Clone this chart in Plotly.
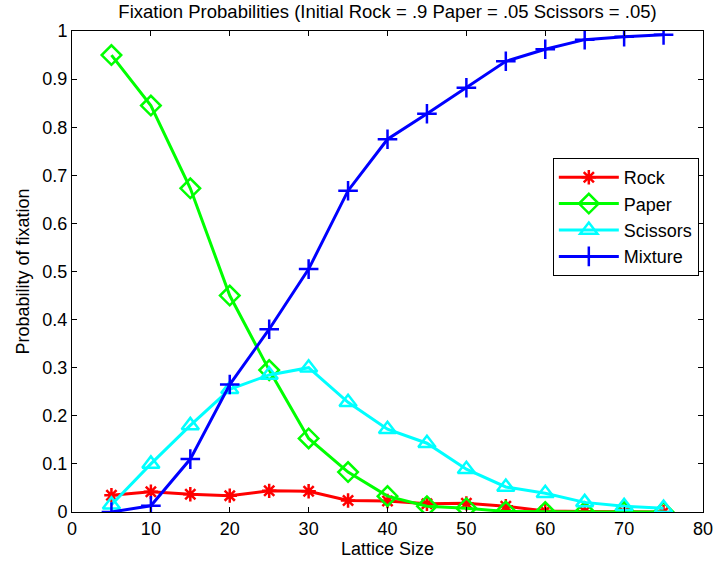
import plotly.graph_objects as go

lattice = [5, 10, 15, 20, 25, 30, 35, 40, 45, 50, 55, 60, 65, 70, 75]
rock = [0.035, 0.042, 0.037, 0.034, 0.044, 0.043, 0.024, 0.023, 0.017, 0.018, 0.012, 0.002, 0.001, 0.0, 0.0]
paper = [0.95, 0.845, 0.673, 0.45, 0.295, 0.153, 0.083, 0.033, 0.012, 0.008, 0.001, 0.0, 0.0, 0.0, 0.0]
scissors = [0.015, 0.10, 0.18, 0.255, 0.285, 0.30, 0.228, 0.172, 0.143, 0.089, 0.052, 0.039, 0.020, 0.012, 0.008]
mixture = [0.0, 0.013, 0.11, 0.265, 0.38, 0.505, 0.668, 0.775, 0.828, 0.882, 0.937, 0.962, 0.982, 0.988, 0.992]

series = [
    ("Rock", rock, "#ff0000", "asterisk-open", 12),
    ("Paper", paper, "#00ff00", "diamond-open", 15),
    ("Scissors", scissors, "#00ffff", "triangle-up-open", 15),
    ("Mixture", mixture, "#0000ff", "cross-thin-open", 14),
]

fig = go.Figure()
for name, vals, col, sym, sz in series:
    fig.add_trace(go.Scatter(
        x=lattice, y=vals, name=name, mode="lines+markers",
        line=dict(color=col, width=3),
        marker=dict(symbol=sym, size=sz, color=col, line=dict(color=col, width=2.5)),
    ))

FS = 18
font = dict(family="Liberation Sans, Arial, sans-serif", size=FS, color="black")
axis_common = dict(
    showline=True, linecolor="black", linewidth=1, mirror="ticks",
    ticks="inside", ticklen=5, tickcolor="black", showgrid=False, zeroline=False,
    tickfont=font, automargin=False,
)
fig.update_layout(
    width=714, height=565,
    margin=dict(l=72, r=11, t=31, b=53),
    paper_bgcolor="white", plot_bgcolor="white",
    font=font,
    title=dict(text="Fixation Probabilities (Initial Rock = .9 Paper = .05 Scissors = .05)",
               x=0.5, xref="paper", xanchor="center", y=0.979, yref="container", yanchor="middle",
               font=dict(family="Liberation Sans, Arial, sans-serif", size=18.5, color="black"),
               automargin=False),
    xaxis=dict(range=[0, 80], tickvals=[0, 10, 20, 30, 40, 50, 60, 70, 80],
               title=dict(text="Lattice Size", font=font, standoff=2), **axis_common),
    yaxis=dict(range=[0, 1], tickvals=[0, 0.1, 0.2, 0.3, 0.4, 0.5, 0.6, 0.7, 0.8, 0.9, 1],
               ticktext=["0", "0.1", "0.2", "0.3", "0.4", "0.5", "0.6", "0.7", "0.8", "0.9", "1"],
               title=dict(text="Probability of fixation", font=font, standoff=8), **axis_common),
    legend=dict(x=0.762, y=0.736, xanchor="left", yanchor="top",
                bordercolor="black", borderwidth=1, bgcolor="white",
                font=font, tracegroupgap=0, itemwidth=60),
    showlegend=True,
)
fig.write_html("out.html")
